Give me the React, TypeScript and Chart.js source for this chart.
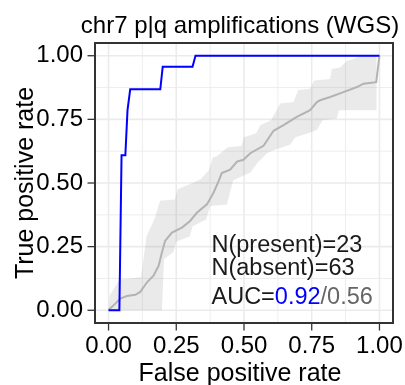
import React, { useEffect, useRef } from "react";
import { Chart, registerables } from "chart.js";

Chart.register(...registerables);

// ---- text ----
const chartTitle = "chr7 p|q amplifications (WGS)";
const xAxisTitle = "False positive rate";
const yAxisTitle = "True positive rate";

// ---- axes ----
const tickValues = [0, 0.25, 0.5, 0.75, 1];
const tickLabels = ["0.00", "0.25", "0.50", "0.75", "1.00"];
const minorBreaks = [0.125, 0.375, 0.625, 0.875];

// ---- observed ROC (blue) ----
const rocFpr = [0, 0.04, 0.048, 0.062, 0.07, 0.08, 0.191, 0.2, 0.31, 0.321, 1];
const rocTpr = [0, 0, 0.609, 0.609, 0.786, 0.868, 0.868, 0.957, 0.957, 1, 1];

// ---- random ROC mean (gray line) ----
const randFpr = [0, 0.006, 0.025, 0.043, 0.068, 0.099, 0.117, 0.142, 0.166, 0.185, 0.197, 0.209, 0.234, 0.271, 0.301, 0.326, 0.363, 0.387, 0.406, 0.418, 0.449, 0.474, 0.498, 0.523, 0.572, 0.609, 0.646, 0.695, 0.744, 0.769, 0.781, 0.818, 0.867, 0.917, 0.941, 0.988, 1];
const randTpr = [0, 0.007, 0.026, 0.046, 0.056, 0.061, 0.072, 0.11, 0.136, 0.175, 0.227, 0.273, 0.305, 0.325, 0.351, 0.383, 0.416, 0.461, 0.506, 0.539, 0.552, 0.584, 0.591, 0.617, 0.646, 0.705, 0.727, 0.76, 0.786, 0.818, 0.825, 0.838, 0.857, 0.877, 0.89, 0.896, 1];

// ---- random ROC band ----
const bandUpperFpr = [0, 0.005, 0.04, 0.12, 0.14, 0.17, 0.19, 0.245, 0.255, 0.31, 0.34, 0.37, 0.385, 0.4, 0.44, 0.49, 0.5, 0.545, 0.56, 0.6, 0.61, 0.634, 0.683, 0.7, 0.744, 0.76, 0.818, 0.824, 0.855, 0.88, 0.904, 0.93, 0.99];
const bandUpperTpr = [0, 0.06, 0.12, 0.13, 0.29, 0.36, 0.43, 0.435, 0.475, 0.5, 0.515, 0.55, 0.6, 0.605, 0.64, 0.645, 0.68, 0.695, 0.727, 0.747, 0.766, 0.812, 0.818, 0.865, 0.87, 0.903, 0.909, 0.948, 0.954, 0.98, 0.987, 1, 1];
const bandLowerFpr = [0, 0.197, 0.205, 0.24, 0.25, 0.3, 0.31, 0.36, 0.375, 0.437, 0.46, 0.5, 0.523, 0.55, 0.585, 0.61, 0.67, 0.69, 0.75, 0.77, 0.79, 0.843, 0.85, 0.99];
const bandLowerTpr = [0, 0, 0.2, 0.23, 0.27, 0.29, 0.33, 0.357, 0.41, 0.416, 0.51, 0.53, 0.54, 0.58, 0.617, 0.63, 0.65, 0.68, 0.7, 0.71, 0.747, 0.753, 0.786, 0.786];

// ---- annotation ----
const nPresent = 23;
const nAbsent = 63;
const aucObserved = "0.92";
const aucRandom = "0.56";

const FONT = '"Liberation Sans", Arial, Helvetica, sans-serif';

const toPts = (xs: number[], ys: number[]) => xs.map((x, i) => ({ x, y: ys[i] }));

const decorPlugin = {
  id: "decor",
  beforeDatasetsDraw(chart: any) {
    const { ctx, chartArea: a, scales } = chart;
    const xs = scales.x;
    const ys = scales.y;
    ctx.save();
    ctx.strokeStyle = "#EBEBEB";
    const drawGrid = (vals: number[], w: number) => {
      ctx.lineWidth = w;
      vals.forEach((v) => {
        const px = xs.getPixelForValue(v);
        ctx.beginPath();
        ctx.moveTo(px, a.top);
        ctx.lineTo(px, a.bottom);
        ctx.stroke();
        const py = ys.getPixelForValue(v);
        ctx.beginPath();
        ctx.moveTo(a.left, py);
        ctx.lineTo(a.right, py);
        ctx.stroke();
      });
    };
    drawGrid(minorBreaks, 0.9);
    drawGrid(tickValues, 1.6);
    ctx.restore();
  },
  afterDatasetsDraw(chart: any) {
    const { ctx, chartArea: a, scales } = chart;
    const xs = scales.x;
    const ys = scales.y;
    ctx.save();
    // panel border
    ctx.strokeStyle = "#333333";
    ctx.lineWidth = 2;
    ctx.strokeRect(a.left, a.top, a.right - a.left, a.bottom - a.top);
    // tick marks
    ctx.lineWidth = 1.3;
    const tl = 7.5;
    tickValues.forEach((v) => {
      const px = xs.getPixelForValue(v);
      ctx.beginPath();
      ctx.moveTo(px, a.bottom + 1);
      ctx.lineTo(px, a.bottom + tl);
      ctx.stroke();
      const py = ys.getPixelForValue(v);
      ctx.beginPath();
      ctx.moveTo(a.left - 1, py);
      ctx.lineTo(a.left - tl, py);
      ctx.stroke();
    });
    const cx = (a.left + a.right) / 2;
    const cy = (a.top + a.bottom) / 2;
    ctx.fillStyle = "#000000";
    // title
    ctx.font = `24px ${FONT}`;
    ctx.textAlign = "center";
    ctx.textBaseline = "alphabetic";
    ctx.fillText(chartTitle, cx - 4, 33);
    // x title
    ctx.font = `25px ${FONT}`;
    ctx.fillText(xAxisTitle, cx - 4, 381);
    // y title
    ctx.save();
    ctx.translate(33, cy);
    ctx.rotate(-Math.PI / 2);
    ctx.fillText(yAxisTitle, 0, 0);
    ctx.restore();
    // annotation
    ctx.font = `23.5px ${FONT}`;
    ctx.textAlign = "left";
    const ax = xs.getPixelForValue(0.38);
    ctx.fillStyle = "#1A1A1A";
    ctx.fillText(`N(present)=${nPresent}`, ax, ys.getPixelForValue(0.23));
    ctx.fillText(`N(absent)=${nAbsent}`, ax, ys.getPixelForValue(0.139));
    const ay = ys.getPixelForValue(0.026);
    const p1 = "AUC=";
    ctx.fillText(p1, ax, ay);
    let off = ctx.measureText(p1).width;
    ctx.fillStyle = "#0000FF";
    ctx.fillText(aucObserved, ax + off, ay);
    off += ctx.measureText(aucObserved).width;
    ctx.fillStyle = "#666666";
    ctx.fillText(`/${aucRandom}`, ax + off, ay);
    ctx.restore();
  },
};

export default function App() {
  const ref = useRef<HTMLCanvasElement | null>(null);
  useEffect(() => {
    document.body.style.margin = "0";
    const canvas = ref.current;
    if (!canvas) return;
    const axisCommon = (fit: (s: any) => void, padding: number) => ({
      type: "linear" as const,
      min: -0.05,
      max: 1.05,
      grid: { display: false, drawTicks: false },
      border: { display: false },
      afterBuildTicks: (s: any) => {
        s.ticks = tickValues.map((v) => ({ value: v }));
      },
      afterFit: (s: any) => {
        fit(s);
        s.paddingLeft = 0;
        s.paddingRight = 0;
        s.paddingTop = 0;
        s.paddingBottom = 0;
      },
      ticks: {
        autoSkip: false,
        maxRotation: 0,
        padding,
        color: "#000000",
        font: { size: 24, family: FONT },
        callback: (_v: any, i: number) => tickLabels[i],
      },
    });
    const chart = new Chart(canvas, {
      type: "line",
      data: {
        datasets: [
          {
            data: toPts(rocFpr, rocTpr),
            borderColor: "#0000FF",
            borderWidth: 2,
            pointRadius: 0,
            tension: 0,
            fill: false,
          },
          {
            data: toPts(randFpr, randTpr),
            borderColor: "#B3B3B3",
            borderWidth: 2,
            pointRadius: 0,
            tension: 0,
            fill: false,
          },
          {
            data: toPts(bandLowerFpr, bandLowerTpr),
            borderWidth: 0,
            borderColor: "rgba(0,0,0,0)",
            pointRadius: 0,
            tension: 0,
            fill: false,
          },
          {
            data: toPts(bandUpperFpr, bandUpperTpr),
            borderWidth: 0,
            borderColor: "rgba(0,0,0,0)",
            backgroundColor: "rgba(127,127,127,0.16)",
            pointRadius: 0,
            tension: 0,
            fill: "-1",
          },
        ],
      },
      options: {
        animation: false,
        responsive: false,
        devicePixelRatio: 1,
        layout: { padding: { top: 43, right: 12, left: 0, bottom: 0 } },
        plugins: {
          legend: { display: false },
          tooltip: { enabled: false },
          title: { display: false },
        },
        scales: {
          x: axisCommon((s: any) => { s.height = 62; }, 9),
          y: axisCommon((s: any) => { s.width = 95; }, 12),
        },
      },
      plugins: [decorPlugin],
    });
    return () => chart.destroy();
  }, []);
  return (
    <div style={{ position: "fixed", left: 0, top: 0, width: 405, height: 385, background: "#fff" }}>
      <canvas ref={ref} width={405} height={385} style={{ display: "block" }} />
    </div>
  );
}
